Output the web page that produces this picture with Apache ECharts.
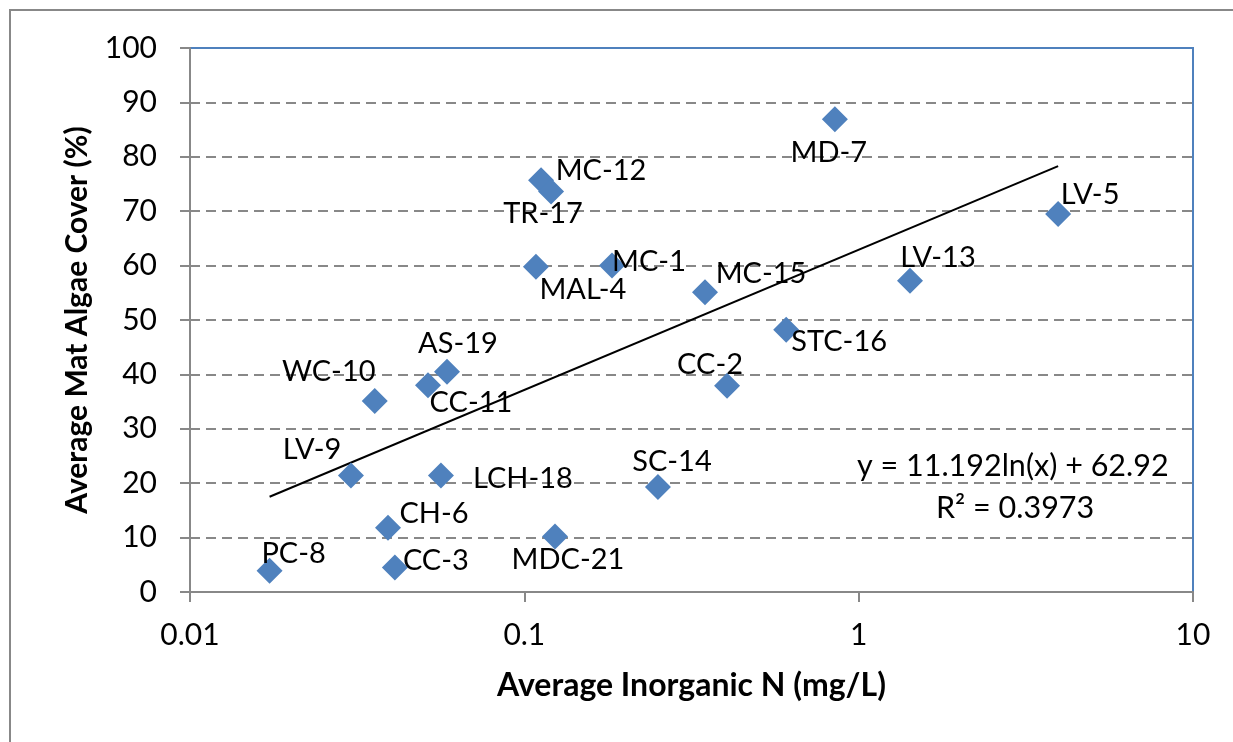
<!DOCTYPE html>
<html>
<head>
<meta charset="utf-8">
<script src="https://cdn.jsdelivr.net/npm/echarts@6/dist/echarts.min.js"></script>
<style>
html,body{margin:0;padding:0;background:#fff;}
#chart{width:1233px;height:742px;}
</style>
</head>
<body>
<div id="chart"></div>
<script>
// ---- data ----
var siteNames = ["PC-8","LV-9","WC-10","CH-6","CC-3","CC-11","AS-19","LCH-18","MAL-4","MC-12","TR-17","MDC-21","MC-1","SC-14","MC-15","CC-2","STC-16","MD-7","LV-13","LV-5"];
var inorganicN = [0.0173,0.0303,0.0357,0.0391,0.0410,0.0515,0.0587,0.0563,0.1083,0.1122,0.1202,0.1235,0.1829,0.251,0.347,0.404,0.607,0.849,1.424,3.95];
var algaeCover = [3.9,21.4,35.1,11.8,4.5,38.0,40.5,21.4,59.8,75.7,73.6,10.2,60.0,19.3,55.1,37.9,48.2,86.9,57.2,69.5];
var trendCoef = [11.192, 62.92]; // y = a ln(x) + b
var trendRange = [0.0173, 3.95];
var xTicks = [0.01, 0.1, 1, 10];
var equationText = "y = 11.192ln(x) + 62.92";
var r2Text = "R\u00B2 = 0.3973";

// ---- label layout (pixel offsets from each marker) ----
var labelOffsets = {
  "PC-8":[24,-17],"LV-9":[-39,-26],"WC-10":[-46,-29],"CH-6":[46,-14],"CC-3":[41,-7],
  "CC-11":[43,17],"AS-19":[11,-28],"LCH-18":[82,3],"MAL-4":[47,23],"MC-12":[60,-10],
  "TR-17":[-8,22],"MDC-21":[13,23],"MC-1":[37,-4],"SC-14":[14,-25],"MC-15":[56,-19],
  "CC-2":[-17,-21],"STC-16":[53,12],"MD-7":[-6,33],"LV-13":[28,-23],"LV-5":[32,-19]
};

var FONT = "Lato";
var points = siteNames.map(function(n,i){
  return {name:n, value:[inorganicN[i], algaeCover[i]],
    label:{offset:labelOffsets[n]}};
});
var trend = trendRange.map(function(x){ return [x, trendCoef[0]*Math.log(x)+trendCoef[1]]; });

var chart = echarts.init(document.getElementById('chart'));
chart.setOption({
  animation:false,
  backgroundColor:'#fff',
  grid:{left:190, top:48, right:40, bottom:150, show:true, borderColor:'#4F81BD', borderWidth:2, backgroundColor:'transparent'},
  xAxis:{
    type:'log', logBase:10, min:0.01, max:10,
    name:'Average Inorganic N (mg/L)', nameLocation:'middle', nameGap:78,
    nameTextStyle:{fontFamily:FONT, fontWeight:'bold', fontSize:32, color:'#000'},
    axisLine:{show:true, lineStyle:{color:'#888', width:2}},
    axisTick:{show:true, length:10, inside:false, lineStyle:{color:'#888', width:2}},
    minorTick:{show:false},
    splitLine:{show:false},
    axisLabel:{fontFamily:FONT, fontSize:30, color:'#000', margin:28,
      formatter:function(v){ var s=xTicks.filter(function(t){return Math.abs(t-v)/t<1e-6;}); return s.length? String(s[0]) : ''; }}
  },
  yAxis:{
    type:'value', min:0, max:100, interval:10,
    name:'Average Mat Algae Cover (%)', nameLocation:'middle', nameGap:98, nameRotate:90,
    nameTextStyle:{fontFamily:FONT, fontWeight:'bold', fontSize:30, color:'#000'},
    axisLine:{show:true, lineStyle:{color:'#888', width:2}},
    axisTick:{show:true, length:10, lineStyle:{color:'#888', width:2}},
    splitLine:{show:true, showMaxLine:false, showMinLine:false, lineStyle:{color:'#888', width:2, type:[10,6]}},
    axisLabel:{fontFamily:FONT, fontSize:30, color:'#000', margin:33}
  },
  graphic:[
    {type:'rect', shape:{x:10,y:10,width:1400,height:900}, style:{fill:'none', stroke:'#888', lineWidth:2}, silent:true, z:-1},
    {type:'text', left:857, top:451, style:{text:equationText, fontFamily:FONT, fontSize:30.5, fill:'#000'}},
    {type:'text', left:936, top:493, style:{text:r2Text, fontFamily:FONT, fontSize:30.5, fill:'#000'}}
  ],
  series:[
    {type:'line', data:trend, symbol:'none', lineStyle:{color:'#000', width:2}, z:3, silent:true},
    {type:'scatter', data:points, symbol:'diamond', symbolSize:26,
      itemStyle:{color:'#4F81BD', opacity:1}, z:4,
      label:{show:true, position:'inside', formatter:'{b}', fontFamily:FONT, fontSize:29, color:'#000'}}
  ]
});
</script>
</body>
</html>
